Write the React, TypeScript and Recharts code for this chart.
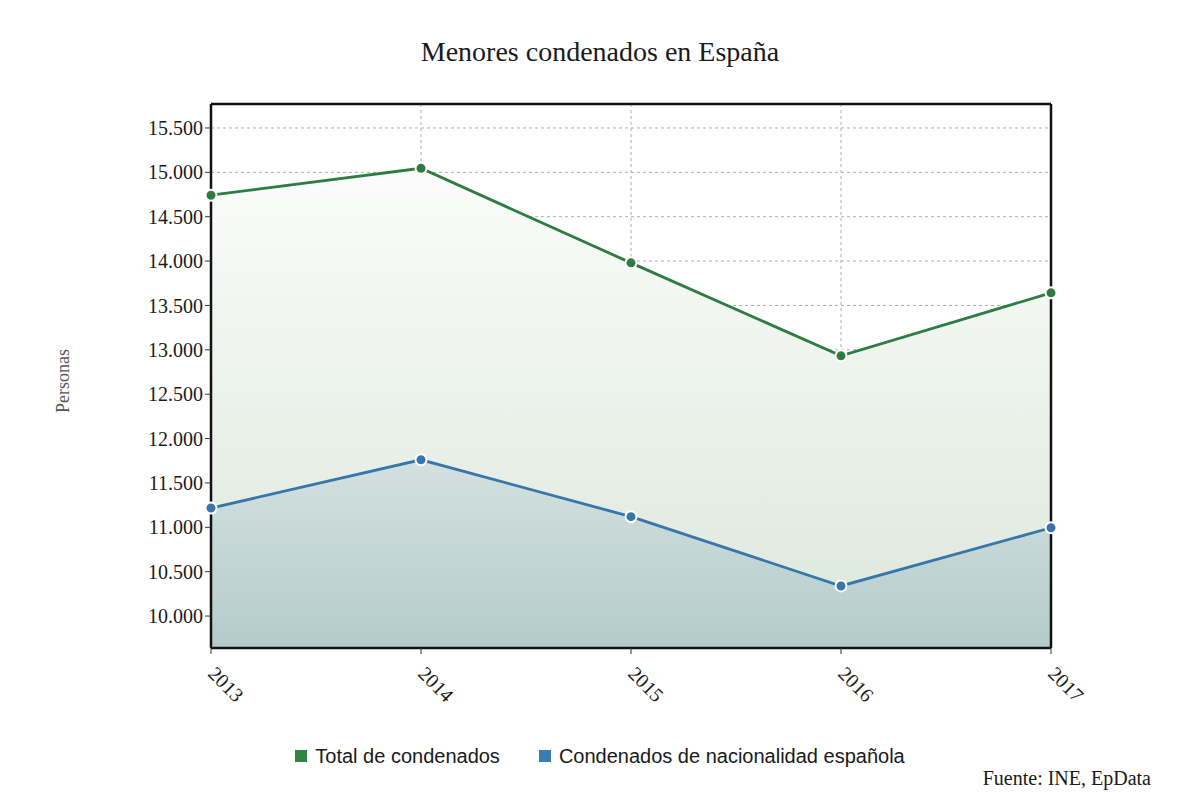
import React from 'react';
import { AreaChart, Area, XAxis, YAxis, CartesianGrid, Legend } from 'recharts';

const years = ['2013', '2014', '2015', '2016', '2017'];
const totalCondenados = [14742, 15046, 13980, 12932, 13642];
const condenadosEspanoles = [11217, 11761, 11120, 10339, 10995];
const yTicks = [10000, 10500, 11000, 11500, 12000, 12500, 13000, 13500, 14000, 14500, 15000, 15500];
const yDomain = [9640, 15770];

const seriesNames = ['Total de condenados', 'Condenados de nacionalidad española'];
const seriesColors = ['#2d7c41', '#3775ab'];
const legendColors = ['#2e8441', '#3a7bb3'];

const data = years.map((y, i) => ({
  year: y,
  total: totalCondenados[i],
  espanoles: condenadosEspanoles[i],
}));

const serif = '"Liberation Serif", "Times New Roman", serif';
const sans = '"Liberation Sans", Arial, sans-serif';

const fmt = (v: number) => String(v).replace(/\B(?=(\d{3})+(?!\d))/g, '.');

const XTick = (props: any) => {
  const { x, y, payload } = props;
  return (
    <g transform={`translate(${x - 4},${y + 19})`}>
      <text transform="rotate(45)" x={0} y={0} textAnchor="start" fontFamily={serif} fontSize={20} fill="#1a1a1a">
        {payload.value}
      </text>
    </g>
  );
};

const LegendContent = () => (
  <div style={{ display: 'flex', justifyContent: 'center', alignItems: 'center', fontFamily: sans, fontSize: 20, color: '#1a1a1a', width: 1200 }}>
    {seriesNames.map((n, i) => (
      <div key={n} style={{ display: 'flex', alignItems: 'center', marginLeft: i === 0 ? 0 : 39 }}>
        <span style={{ display: 'inline-block', width: 12, height: 12, background: legendColors[i], marginRight: 8 }} />
        <span style={{ lineHeight: '24px' }}>{n}</span>
      </div>
    ))}
  </div>
);

export default function App() {
  return (
    <div style={{ position: 'absolute', left: 0, top: 0, width: 1200, height: 808, background: '#fff' }}>
      <div style={{ position: 'absolute', left: 0, top: 36, width: 1200, textAlign: 'center', fontFamily: serif, fontSize: 28, lineHeight: '32px', color: '#1a1a1a' }}>
        Menores condenados en España
      </div>
      <div style={{ position: 'absolute', left: 63, top: 381, transform: 'translate(-50%,-50%) rotate(-90deg)', fontFamily: serif, fontSize: 18, color: '#555', whiteSpace: 'nowrap' }}>
        Personas
      </div>
      <div style={{ position: 'absolute', right: 49, top: 766, fontFamily: serif, fontSize: 20, lineHeight: '24px', color: '#1a1a1a' }}>
        Fuente: INE, EpData
      </div>
      <AreaChart width={1200} height={808} data={data} margin={{ top: 103, right: 148, bottom: 100, left: 0 }}>
        <defs>
          <linearGradient id="gTotal" x1="0" y1="0" x2="0" y2="1">
            <stop offset="0%" stopColor="#fbfcfb" />
            <stop offset="100%" stopColor="#dbe7da" />
          </linearGradient>
          <linearGradient id="gEsp" x1="0" y1="0" x2="0" y2="1">
            <stop offset="0%" stopColor="#d3e1de" />
            <stop offset="100%" stopColor="#b4cbcb" />
          </linearGradient>
        </defs>
        <CartesianGrid strokeDasharray="3 3" stroke="#aeaeae" />
        <XAxis
          dataKey="year"
          height={60}
          tick={<XTick />}
          tickSize={6}
          tickMargin={2}
          interval={0}
          axisLine={{ stroke: '#111', strokeWidth: 2.5 }}
          tickLine={{ stroke: '#333' }}
        />
        <XAxis xAxisId="t" dataKey="year" orientation="top" height={1} tick={false} tickLine={false} axisLine={{ stroke: '#111', strokeWidth: 2.5 }} />
        <YAxis
          width={211}
          domain={yDomain}
          ticks={yTicks}
          allowDataOverflow
          tickFormatter={fmt}
          tickSize={6}
          tickMargin={2}
          tick={{ fontFamily: serif, fontSize: 20, fill: '#1a1a1a' }}
          axisLine={{ stroke: '#111', strokeWidth: 2.5 }}
          tickLine={{ stroke: '#333' }}
        />
        <YAxis yAxisId="r" orientation="right" width={1} domain={yDomain} tick={false} tickLine={false} axisLine={{ stroke: '#111', strokeWidth: 2.5 }} />
        <Area
          type="linear"
          dataKey="total"
          name={seriesNames[0]}
          stroke={seriesColors[0]}
          strokeWidth={2.8}
          fill="url(#gTotal)"
          fillOpacity={1}
          baseValue={yDomain[0]}
          dot={{ r: 5.5, fill: seriesColors[0], stroke: '#fff', strokeWidth: 2 }}
          activeDot={false}
          isAnimationActive={false}
        />
        <Area
          type="linear"
          dataKey="espanoles"
          name={seriesNames[1]}
          stroke={seriesColors[1]}
          strokeWidth={2.8}
          fill="url(#gEsp)"
          fillOpacity={1}
          baseValue={yDomain[0]}
          dot={{ r: 5.5, fill: seriesColors[1], stroke: '#fff', strokeWidth: 2 }}
          activeDot={false}
          isAnimationActive={false}
        />
        <Legend
          layout="horizontal"
          verticalAlign="middle"
          align="center"
          content={<LegendContent />}
          wrapperStyle={{ top: 744, left: 0, width: 1200 }}
        />
      </AreaChart>
    </div>
  );
}
